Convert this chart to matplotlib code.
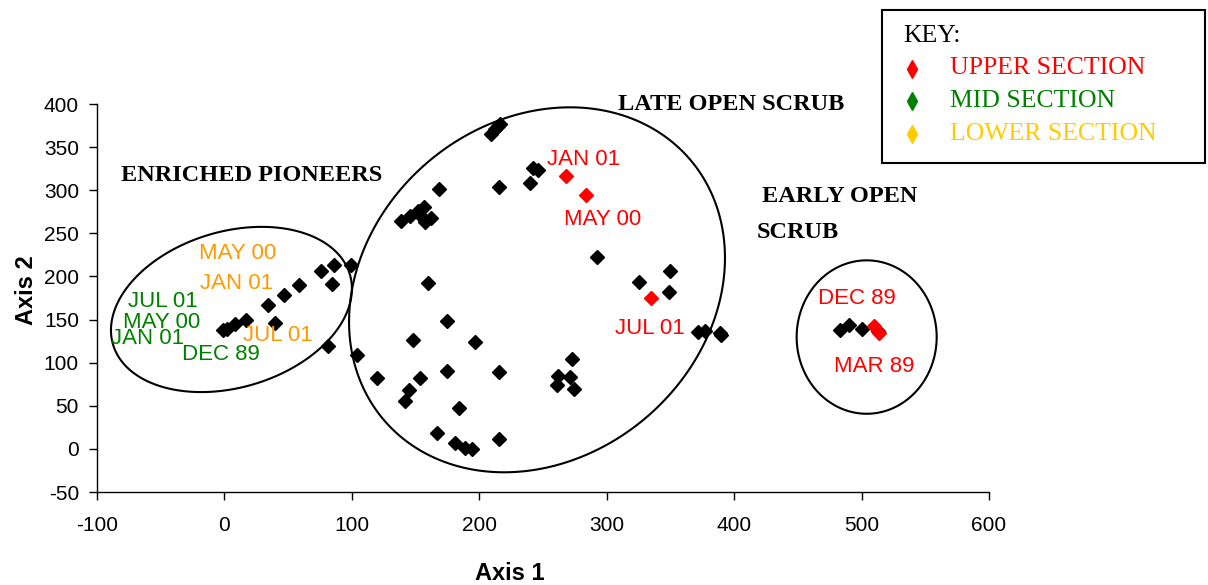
import numpy as np
import matplotlib
matplotlib.use("Agg")
import matplotlib.pyplot as plt
from matplotlib.patches import Rectangle, Polygon
from matplotlib.lines import Line2D

plt.rcParams["axes.unicode_minus"] = False

# ---------------- data ----------------
black_x = [-1, 2, 8, 17, 34, 40, 47, 58.5, 76, 86, 84.5, 99, 81.5, 104,
           209.5, 212, 215, 216, 242, 246, 240, 215.5, 168, 138.5, 145.5, 152, 157, 162.5,
           157.5, 153.5, 292, 325, 350, 349, 372, 377, 390, 389, 159.5, 174.5, 148, 197,
           119.5, 153.5, 174.5, 215.5, 145, 142, 184, 273, 262, 271, 261, 274.5, 166.5,
           181, 189, 194, 215.5,
           483, 490, 500, 513]
black_y = [137.5, 139.5, 145, 150, 167, 146, 179, 190, 206, 213, 191, 213, 119, 109,
           365, 371, 375, 377, 326, 323, 308, 303.5, 301, 264, 270, 275.5, 280.5, 268,
           263, 271.5, 223, 194, 206, 182, 135.5, 137, 131.6, 134, 192, 148, 126, 124,
           82, 82, 90, 89, 68, 55, 48, 104.5, 85, 83, 74.5, 69.5, 19,
           7, 1.5, -0.5, 11,
           138, 144, 139, 137]

upper_x = [268, 284, 335, 510, 514]
upper_y = [317, 294, 174.5, 143, 134]

# data labels: (text, x, y)
upper_labels = ["JAN 01", "MAY 00", "JUL 01", "DEC 89", "MAR 89"]
upper_lab_x = [281.5, 296.5, 333.5, 496, 510]
upper_lab_y = [336, 265.5, 140, 174, 95]

mid_labels = ["JUL 01", "MAY 00", "JAN 01", "DEC 89"]
mid_lab_x = [-48, -49, -60, -2.5]
mid_lab_y = [171.5, 147, 128.5, 109]

lower_labels = ["MAY 00", "JAN 01", "JUL 01"]
lower_lab_x = [10.5, 9.5, 42]
lower_lab_y = [227, 191.5, 131]

x_ticks = [-100, 0, 100, 200, 300, 400, 500, 600]
y_ticks = [-50, 0, 50, 100, 150, 200, 250, 300, 350, 400]

# group outlines: centre (data), semi-axes (pixels), tilt (deg)
groups = ["ENRICHED PIONEERS", "LATE OPEN SCRUB", "EARLY OPEN SCRUB"]
grp_cx = [5.5, 245.3, 504.0]
grp_cy = [161.7, 184.5, 129.7]
grp_a = [123.5, 201, 70]
grp_b = [78, 168, 76.7]
grp_ang = [16.5, 40.2, 0]

key_names = ["UPPER SECTION", "MID SECTION", "LOWER SECTION"]
key_colors = ["#FF0000", "#008000", "#FFCC00"]

RED = "#FF0000"
GREEN = "#008000"
ORANGE = "#FF9900"

# ---------------- figure ----------------
W, H = 1208, 585
fig = plt.figure(figsize=(W / 100, H / 100), dpi=100)
ax = fig.add_axes([97 / W, (H - 492) / H, (989 - 97) / W, (492 - 104) / H])
ax.set_xlim(-100, 600)
ax.set_ylim(-50, 400)

sans = "Liberation Sans"
serif = "Liberation Serif"

ax.set_xticks(x_ticks)
ax.set_yticks(y_ticks)
ax.tick_params(axis="x", direction="out", length=6, width=1, pad=11, labelsize=15)
ax.tick_params(axis="y", direction="out", length=6, width=1, pad=7, labelsize=15)
for lab in ax.get_xticklabels() + ax.get_yticklabels():
    lab.set_fontfamily(sans)
for s in ["top", "right"]:
    ax.spines[s].set_visible(False)
for s in ["left", "bottom"]:
    ax.spines[s].set_linewidth(1)

ax.set_xlabel("Axis 1", fontfamily=sans, fontweight="bold", fontsize=17)
ax.set_ylabel("Axis 2", fontfamily=sans, fontweight="bold", fontsize=17)
ax.xaxis.set_label_coords(0.463, -0.209)
ax.xaxis.label.set_va("center")
ax.yaxis.set_label_coords(-0.079, 0.52)
ax.yaxis.label.set_va("center")

# ellipses (drawn after limits are fixed)
fig.canvas.draw()
t = np.linspace(0, 2 * np.pi, 400, endpoint=False)
inv = ax.transData.inverted()
for cx, cy, a, b, ang in zip(grp_cx, grp_cy, grp_a, grp_b, grp_ang):
    th = np.deg2rad(ang)
    c = ax.transData.transform((cx, cy))
    dx = a * np.cos(t) * np.cos(th) - b * np.sin(t) * np.sin(th)
    dy = a * np.cos(t) * np.sin(th) + b * np.sin(t) * np.cos(th)
    pts = inv.transform(np.column_stack([c[0] + dx, c[1] + dy]))
    ax.add_patch(Polygon(pts, closed=True, fill=False, edgecolor="black", lw=1.5, zorder=2))

# points
ax.plot(black_x, black_y, linestyle="none", marker="D", ms=7.3, color="black", zorder=3)
ax.plot(upper_x, upper_y, linestyle="none", marker="D", ms=7.3, color=RED, zorder=4)

# data labels
for txt, x, y in zip(upper_labels, upper_lab_x, upper_lab_y):
    ax.text(x, y, txt, color=RED, fontsize=16, fontfamily=sans, ha="center", va="center", zorder=5)
for txt, x, y in zip(mid_labels, mid_lab_x, mid_lab_y):
    ax.text(x, y, txt, color=GREEN, fontsize=16, fontfamily=sans, ha="center", va="center", zorder=5)
for txt, x, y in zip(lower_labels, lower_lab_x, lower_lab_y):
    ax.text(x, y, txt, color=ORANGE, fontsize=16, fontfamily=sans, ha="center", va="center", zorder=5)

# group titles
tkw = dict(fontfamily=serif, fontweight="bold", fontsize=17.5, color="black", va="center", clip_on=False)
ax.text(21.5, 316.5, groups[0], ha="center", **tkw)
ax.text(398, 400, groups[1], ha="center", **tkw)
ax.text(421.5, 293, "EARLY OPEN", ha="left", **tkw)
ax.text(418, 251.5, "SCRUB", ha="left", **tkw)

# key box
fig.patches.append(Rectangle((882 / W, 1 - 163 / H), (1205 - 882) / W, (163 - 10) / H,
                             transform=fig.transFigure, fill=True, facecolor="white",
                             edgecolor="black", lw=1.5, zorder=10))
fig.text(903 / W, 1 - 36 / H, "KEY:", fontfamily=serif, fontsize=18.5, va="center", ha="left", zorder=11)
key_y = [68.5, 100.5, 134]
for name, col, ky in zip(key_names, key_colors, key_y):
    fig.lines.append(Line2D([912 / W], [1 - ky / H], transform=fig.transFigure, marker="d",
                            ms=9, color=col, linestyle="none", zorder=11))
    fig.text(950 / W, 1 - ky / H, name, color=col, fontfamily=serif, fontsize=18.5,
             va="center", ha="left", zorder=11)

fig.savefig("out.png", dpi=100)
